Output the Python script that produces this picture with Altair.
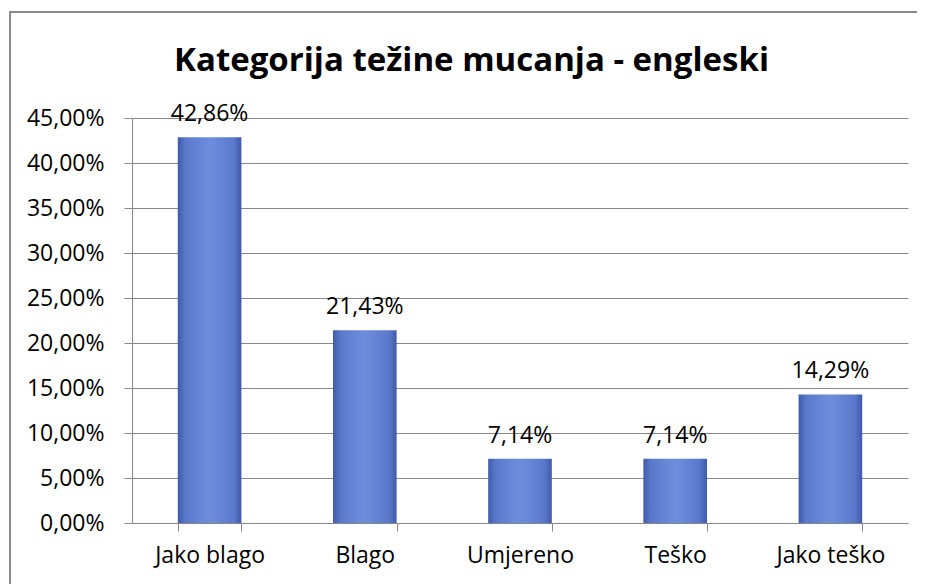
import altair as alt
import pandas as pd

categories = ["Jako blago", "Blago", "Umjereno", "Teško", "Jako teško"]
values = [0.4286, 0.2143, 0.0714, 0.0714, 0.1429]
title_text = ["Kategorija težine mucanja - engleski"]

df = pd.DataFrame({"cat": categories, "v": values})
tdf = pd.DataFrame({"t": title_text})

FONT = "Open Sans"
GRID = "#878787"
FS = 23

x_enc = alt.X(
    "cat:N",
    sort=categories,
    title=None,
    scale=alt.Scale(paddingInner=0.59, paddingOuter=0.295),
    axis=alt.Axis(
        labelAngle=0, tickBand="extent", tickSize=8, tickColor=GRID,
        domainColor=GRID, labelFontSize=FS, labelFont=FONT, labelColor="#000",
        labelPadding=13, grid=False,
    ),
)
y_enc = alt.Y(
    "v:Q",
    title=None,
    scale=alt.Scale(domain=[0, 0.45], nice=False),
    axis=alt.Axis(
        values=[i * 0.05 for i in range(10)],
        labelExpr="replace(format(datum.value, '.2%'), '.', ',')",
        tickSize=8, tickColor=GRID, domainColor=GRID, gridColor=GRID,
        labelFontSize=FS, labelFont=FONT, labelColor="#000", labelPadding=20,
    ),
)

grad = alt.Gradient(
    gradient="linear", x1=0, x2=1, y1=0, y2=0,
    stops=[
        alt.GradientStop(color="#3f5aa8", offset=0),
        alt.GradientStop(color="#5a79cc", offset=0.12),
        alt.GradientStop(color="#6e8edd", offset=0.5),
        alt.GradientStop(color="#5a79cc", offset=0.88),
        alt.GradientStop(color="#3f5aa8", offset=1),
    ],
)

bars = alt.Chart(df).mark_bar(fill=grad).encode(x=x_enc, y=y_enc)

labels = alt.Chart(df).transform_calculate(
    lbl="replace(format(datum.v, '.2%'), '.', ',')"
).mark_text(
    font=FONT, fontSize=FS, color="#000", baseline="alphabetic", dy=-16
).encode(x=alt.X("cat:N", sort=categories), y="v:Q", text="lbl:N")

border = alt.Chart(df).mark_rect(
    fill=None, stroke="#8a8a8a", strokeWidth=1.5
).encode(
    x=alt.value(-122), x2=alt.value(789), y=alt.value(-106), y2=alt.value(480)
)

title = alt.Chart(tdf).mark_text(
    font=FONT, fontSize=33, fontWeight="bold", color="#000",
    baseline="alphabetic", align="center",
).encode(text="t:N", x=alt.value(339.5), y=alt.value(-47))

chart = alt.layer(border, bars, labels, title).properties(
    width=776, height=405,
    autosize=alt.AutoSizeParams(type="none"),
    padding={"left": 124, "top": 110, "right": 9, "bottom": 61},
).configure_view(stroke=None)

chart.save("out.html", embed_options={"renderer": "svg", "actions": False})
